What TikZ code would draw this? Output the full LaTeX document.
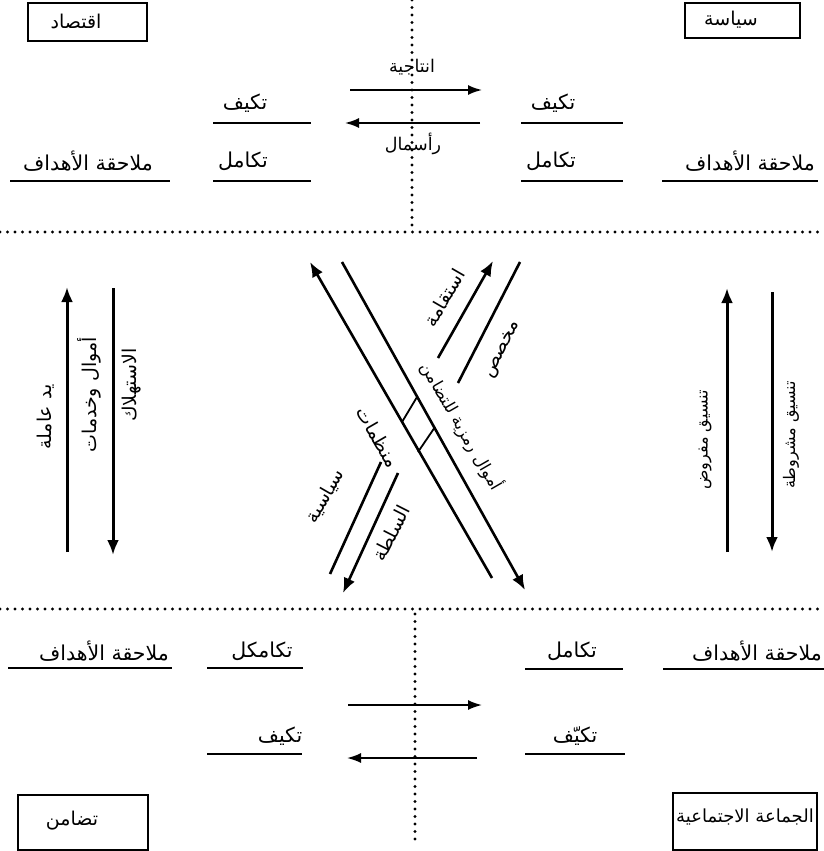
\documentclass[tikz,border=0pt]{standalone}
\usepackage{fontspec}
\newfontfamily\arfont[Script=Arabic]{DejaVu Sans}
\TeXXeTstate=1
\usetikzlibrary{arrows.meta}
\newcommand\AR[1]{\beginR#1\endR}
\tikzset{
  lvl/.style={font=\arfont\fontsize{20.5}{23}\selectfont, inner sep=1pt},
  boxt/.style={font=\arfont\fontsize{19}{21}\selectfont, inner sep=1pt},
  arrt/.style={font=\arfont\fontsize{17.5}{20}\selectfont, inner sep=1pt},
  rot/.style={font=\arfont\fontsize{19}{21}\selectfont, inner sep=1pt},
  rots/.style={font=\arfont\fontsize{16.5}{19}\selectfont, inner sep=1pt},
  rotv/.style={font=\arfont\fontsize{16}{18}\selectfont, inner sep=1pt},
  boxn/.style={draw, line width=2pt, inner sep=0pt},
  uline/.style={line width=1.7pt},
  dotln/.style={line width=3.3pt, line cap=round, dash pattern=on 0pt off 7.5pt},
  harrow/.style={line width=1.8pt, -{Latex[length=14pt,width=10pt]}},
  varrow/.style={line width=3pt, -{Latex[length=15pt,width=12pt]}},
  darrow/.style={line width=2.6pt, -{Latex[length=15pt,width=12pt]}},
  dline/.style={line width=2.6pt},
}
\begin{document}
\begin{tikzpicture}[x=1pt,y=-1pt]
\useasboundingbox (0,0) rectangle (824,851);

% boxes
\node[boxn, minimum width=119pt, minimum height=38pt] (ecoBox) at (87.5,22.5) {};
\node[boxt] (ecoT) at (76,21) {\AR{اقتصاد}};
\node[boxn, minimum width=115pt, minimum height=35pt] (polBox) at (742.5,21) {};
\node[boxt] (polT) at (731,20) {\AR{سياسة}};
\node[boxn, minimum width=130pt, minimum height=55pt] (solBox) at (83,822.5) {};
\node[boxt] (solT) at (72,821) {\AR{تضامن}};
\node[boxn, minimum width=144pt, minimum height=57pt] (comBox) at (745,821.5) {};
\node[font=\arfont\fontsize{18}{20}\selectfont, inner sep=1pt] (comT) at (745,817) {\AR{الجماعة الاجتماعية}};

% dotted separators
\coordinate (vt1) at (412,0); \coordinate (vt2) at (412,226);
\coordinate (ht1) at (0,232); \coordinate (ht2) at (824,232);
\coordinate (hb1) at (0,609); \coordinate (hb2) at (824,609);
\coordinate (vb1) at (415,614); \coordinate (vb2) at (415,842);
\draw[dotln] (vt1) -- (vt2);
\draw[dotln] (ht1) -- (ht2);
\draw[dotln] (hb1) -- (hb2);
\draw[dotln] (vb1) -- (vb2);

% ---------- top part ----------
\coordinate (ta1) at (350,90); \coordinate (ta2) at (482,90);
\coordinate (tb1) at (480,123); \coordinate (tb2) at (345,123);
\draw[harrow] (ta1) -- (ta2);
\draw[harrow] (tb1) -- (tb2);
\node[arrt] (prodT) at (412,67) {\AR{انتاجية}};
\node[arrt] (capT) at (413,144) {\AR{رأسمال}};

\node[lvl] (adTL) at (245,103) {\AR{تكيف}};
\draw[uline] (213,123) -- (311,123);
\node[lvl] (adTR) at (553,103) {\AR{تكيف}};
\draw[uline] (521,123) -- (623,123);

\node[lvl] (goTL) at (88,161) {\AR{ملاحقة الأهداف}};
\draw[uline] (10,181) -- (170,181);
\node[lvl] (inTL) at (243,161) {\AR{تكامل}};
\draw[uline] (213,181) -- (311,181);
\node[lvl] (inTR) at (551,161) {\AR{تكامل}};
\draw[uline] (521,181) -- (623,181);
\node[lvl] (goTR) at (750,161) {\AR{ملاحقة الأهداف}};
\draw[uline] (662,181) -- (818,181);

% ---------- middle part ----------
\coordinate (lu1) at (67,552); \coordinate (lu2) at (67,287);
\coordinate (ld1) at (113,288); \coordinate (ld2) at (113,555);
\coordinate (ru1) at (727,552); \coordinate (ru2) at (727,288);
\coordinate (rd1) at (772,292); \coordinate (rd2) at (772,552);
\draw[varrow] (lu1) -- (lu2);
\draw[varrow] (ld1) -- (ld2);
\draw[varrow] (ru1) -- (ru2);
\draw[varrow] (rd1) -- (rd2);
\node[rot, rotate=90] (labT) at (46,417) {\AR{يد عاملة}};
\node[rot, rotate=90] (goodT) at (89,395) {\AR{أموال وخدمات}};
\node[rot, rotate=90] (consT) at (132,385) {\AR{الاستهلاك}};
\node[rotv, rotate=90] (coord1T) at (705,440) {\AR{تنسيق مفروض}};
\node[rotv, rotate=90] (coord2T) at (791,435) {\AR{تنسيق مشروطة}};

% X in the centre
\coordinate (l1a) at (492,578); \coordinate (l1b) at (310,262);
\coordinate (l2a) at (342,262); \coordinate (l2b) at (525,590);
\coordinate (pua) at (438,358); \coordinate (pub) at (493,261);
\coordinate (pla) at (381,462); \coordinate (plb) at (330,574);
\coordinate (qua) at (520,262); \coordinate (qub) at (458,383);
\coordinate (qla) at (398,473); \coordinate (qlb) at (343,593);
\draw[darrow] (l1a) -- (l1b);
\draw[darrow] (l2a) -- (l2b);
\draw[darrow] (pua) -- (pub);
\draw[dline] (pla) -- (plb);
\draw[dline] (qua) -- (qub);
\draw[darrow] (qla) -- (qlb);
\coordinate (r1) at (417,397); \coordinate (r2) at (402,422);
\coordinate (r3) at (435,427); \coordinate (r4) at (418,452);
\draw[line width=1.8pt] (r1) -- (r2);
\draw[line width=1.8pt] (r3) -- (r4);

\node[rot, rotate=60] (stT) at (444,298) {\AR{استقامة}};
\node[rot, rotate=63] (alT) at (503,350) {\AR{مخصص}};
\node[rots, rotate=-60] (symT) at (462,426) {\AR{أموال رمزية للتضامن}};
\node[rot, rotate=-60] (orgT) at (378,437) {\AR{منظمات}};
\node[rot, rotate=60] (polT2) at (325,496) {\AR{سياسية}};
\node[rot, rotate=63] (powT) at (391,533) {\AR{السلطة}};

% ---------- bottom part ----------
\node[lvl] (goBL) at (104,651) {\AR{ملاحقة الأهداف}};
\draw[uline] (8,668) -- (172,668);
\node[lvl] (inBL) at (262,651) {\AR{تكامكل}};
\draw[uline] (207,668) -- (303,668);
\node[lvl] (inBR) at (572,651) {\AR{تكامل}};
\draw[uline] (525,669) -- (623,669);
\node[lvl] (goBR) at (757,651) {\AR{ملاحقة الأهداف}};
\draw[uline] (663,669) -- (824,669);

\coordinate (ba1) at (348,705); \coordinate (ba2) at (482,705);
\coordinate (bb1) at (477,758); \coordinate (bb2) at (347,758);
\draw[harrow] (ba1) -- (ba2);
\draw[harrow] (bb1) -- (bb2);

\node[lvl] (adBL) at (280,736) {\AR{تكيف}};
\draw[uline] (207,754) -- (302,754);
\node[lvl] (adBR) at (575,736) {\AR{تكيّف}};
\draw[uline] (525,754) -- (625,754);
\end{tikzpicture}
\end{document}
